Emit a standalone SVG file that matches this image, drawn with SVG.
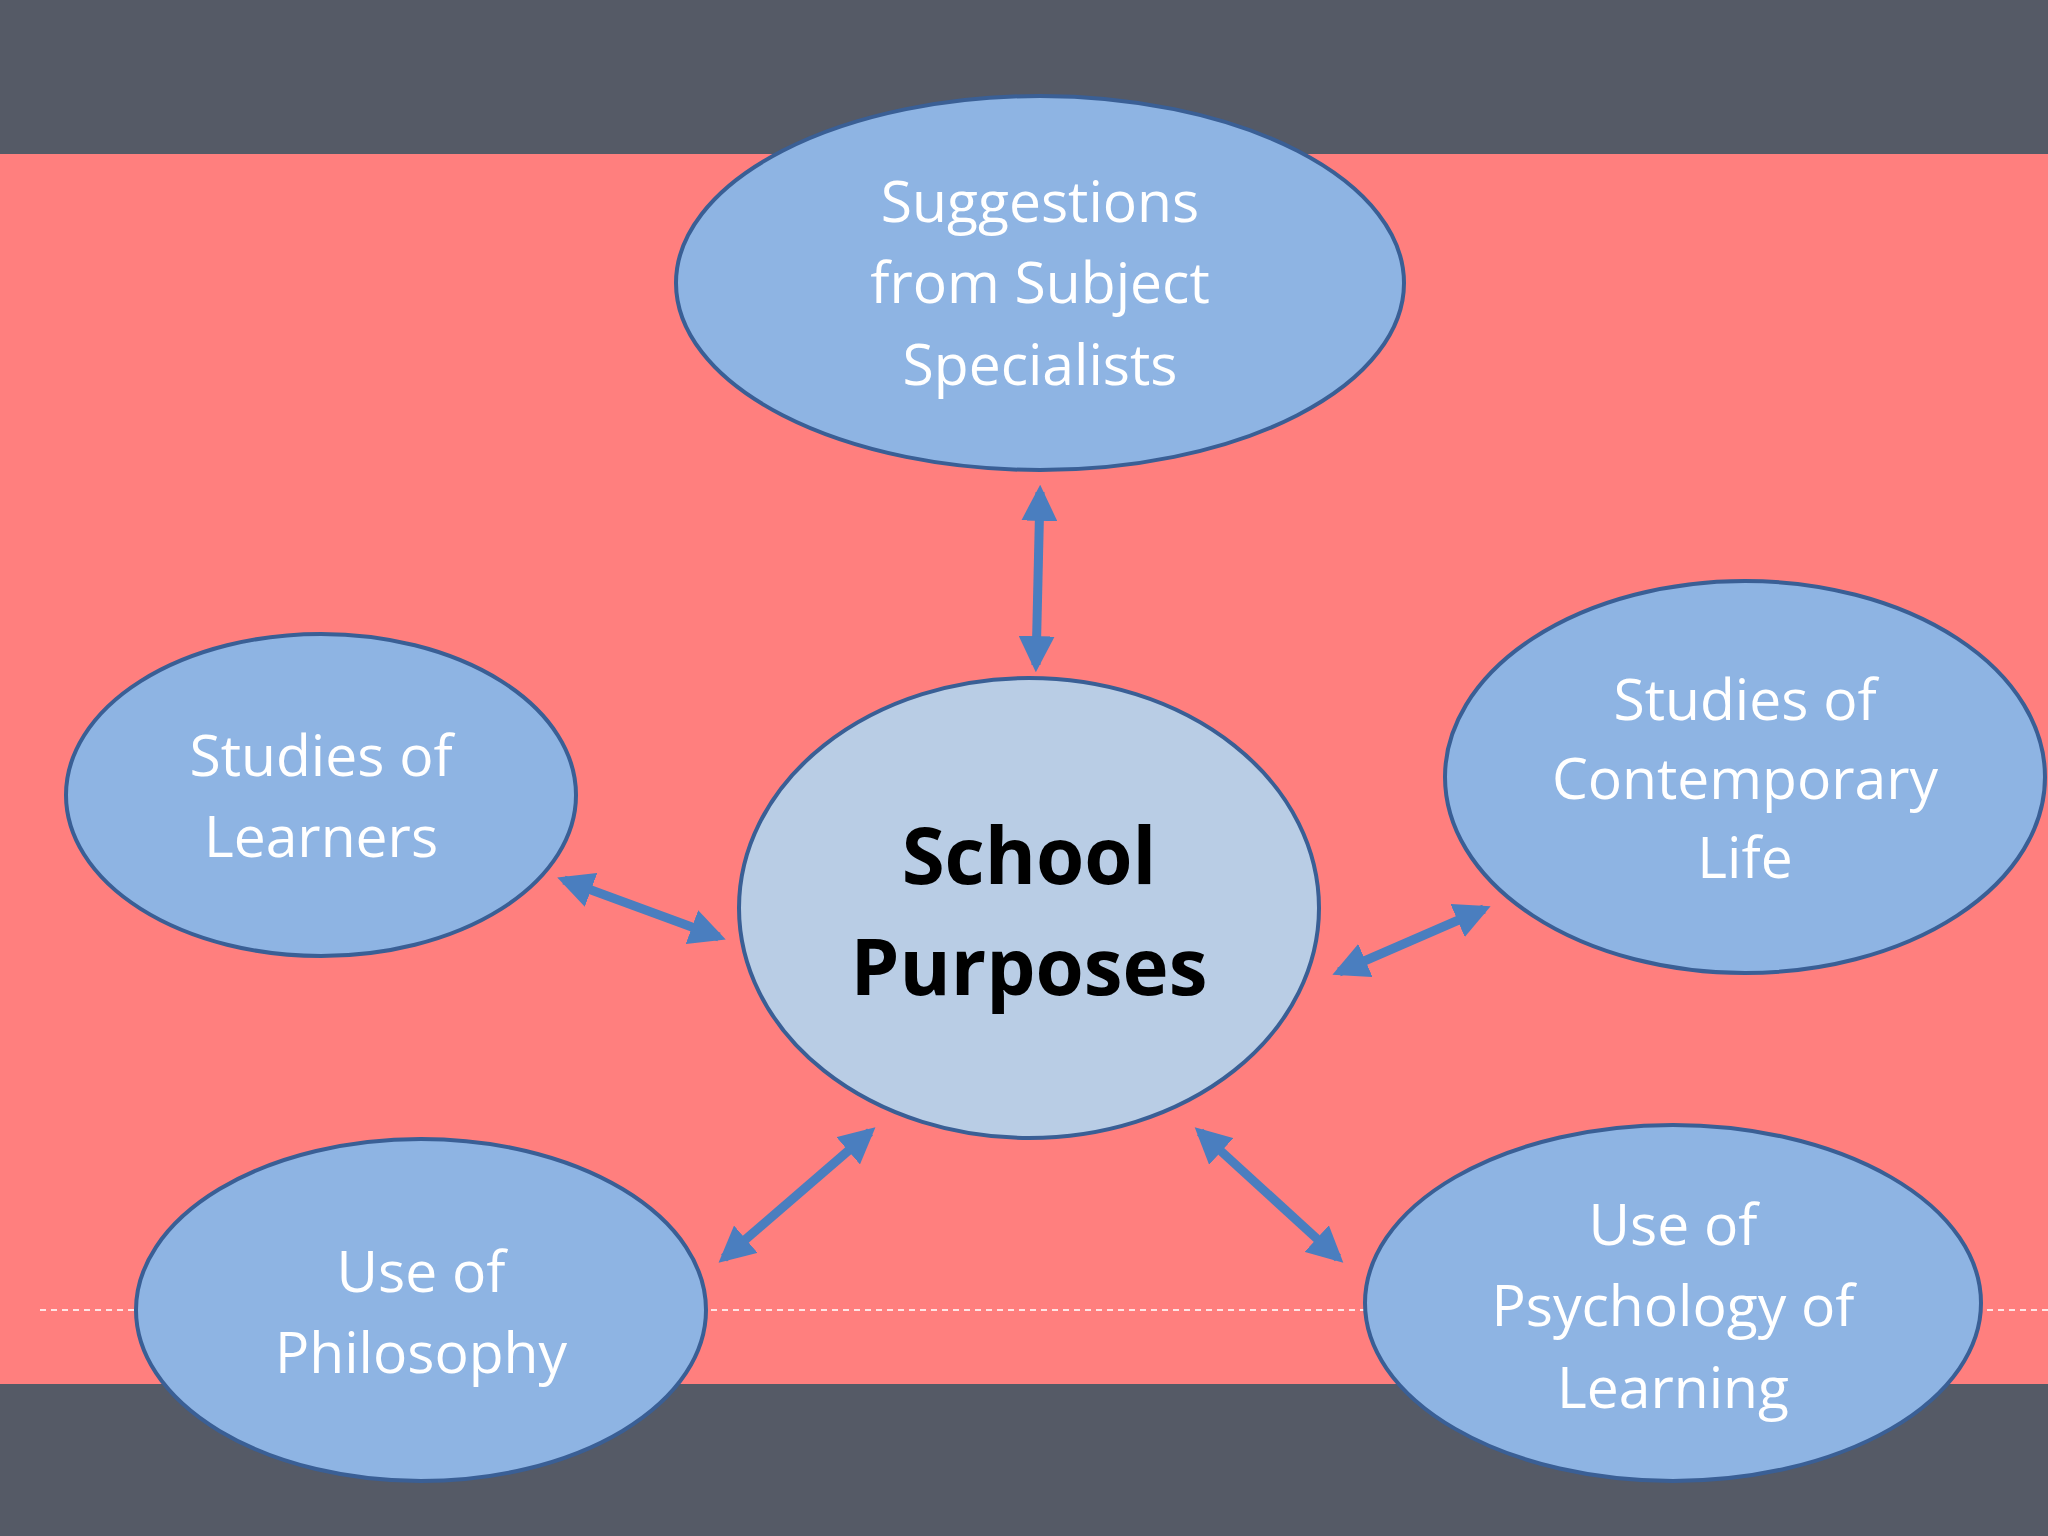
<svg xmlns="http://www.w3.org/2000/svg" width="2048" height="1536" viewBox="0 0 2048 1536">
<style>
.n{fill:#8EB4E3;stroke:#3A5F95;stroke-width:4}
.c{fill:#B9CDE5;stroke:#3A5F95;stroke-width:4}
.t{font-family:"Open Sans","Liberation Sans",sans-serif;font-size:57px;fill:#fff;text-anchor:middle}
.b{font-family:"Open Sans","Liberation Sans",sans-serif;font-size:78px;font-weight:bold;fill:#000;text-anchor:middle}
.a{stroke:#4A7EBF;stroke-width:9;fill:none;marker-start:url(#h);marker-end:url(#h)}
</style>
<defs><marker id="h" viewBox="0 0 10 10" refX="8" refY="5" markerWidth="4" markerHeight="4" orient="auto-start-reverse" markerUnits="strokeWidth"><path d="M0,0L10,5L0,10z" fill="#4A7EBF"/></marker></defs>
<rect width="2048" height="1536" fill="#FF7F7E"/>
<rect width="2048" height="154" fill="#555A66"/>
<rect y="1384" width="2048" height="152" fill="#555A66"/>
<line x1="40" y1="1310" x2="2048" y2="1310" stroke="#fff" stroke-width="2" stroke-dasharray="6,5" opacity="0.8"/>
<g id="connectors">
<line class="a" x1="1040" y1="492" x2="1036" y2="665"/>
<line class="a" x1="564" y1="880" x2="719" y2="937"/>
<line class="a" x1="1484" y1="909" x2="1339" y2="972"/>
<line class="a" x1="870" y1="1132" x2="724" y2="1258"/>
<line class="a" x1="1200" y1="1132" x2="1338" y2="1258"/>
</g>
<g id="top"><ellipse class="n" cx="1040" cy="283" rx="364" ry="187"/><text class="t" x="1040" y="222">Suggestions</text><text class="t" x="1040" y="303">from Subject</text><text class="t" x="1040" y="385">Specialists</text></g>
<g id="left"><ellipse class="n" cx="321" cy="795" rx="255" ry="161"/><text class="t" x="321" y="776">Studies of</text><text class="t" x="321" y="857">Learners</text></g>
<g id="center"><ellipse class="c" cx="1029" cy="908" rx="290" ry="230"/><text class="b" x="1029" y="884">School</text><text class="b" x="1029" y="995">Purposes</text></g>
<g id="right"><ellipse class="n" cx="1745" cy="777" rx="300" ry="196"/><text class="t" x="1745" y="720">Studies of</text><text class="t" x="1745" y="799">Contemporary</text><text class="t" x="1745" y="878">Life</text></g>
<g id="bl"><ellipse class="n" cx="421" cy="1310" rx="285" ry="171"/><text class="t" x="421" y="1292">Use of</text><text class="t" x="421" y="1373">Philosophy</text></g>
<g id="br"><ellipse class="n" cx="1673" cy="1303" rx="308" ry="178"/><text class="t" x="1673" y="1245">Use of</text><text class="t" x="1673" y="1326">Psychology of</text><text class="t" x="1673" y="1408">Learning</text></g>
</svg>
